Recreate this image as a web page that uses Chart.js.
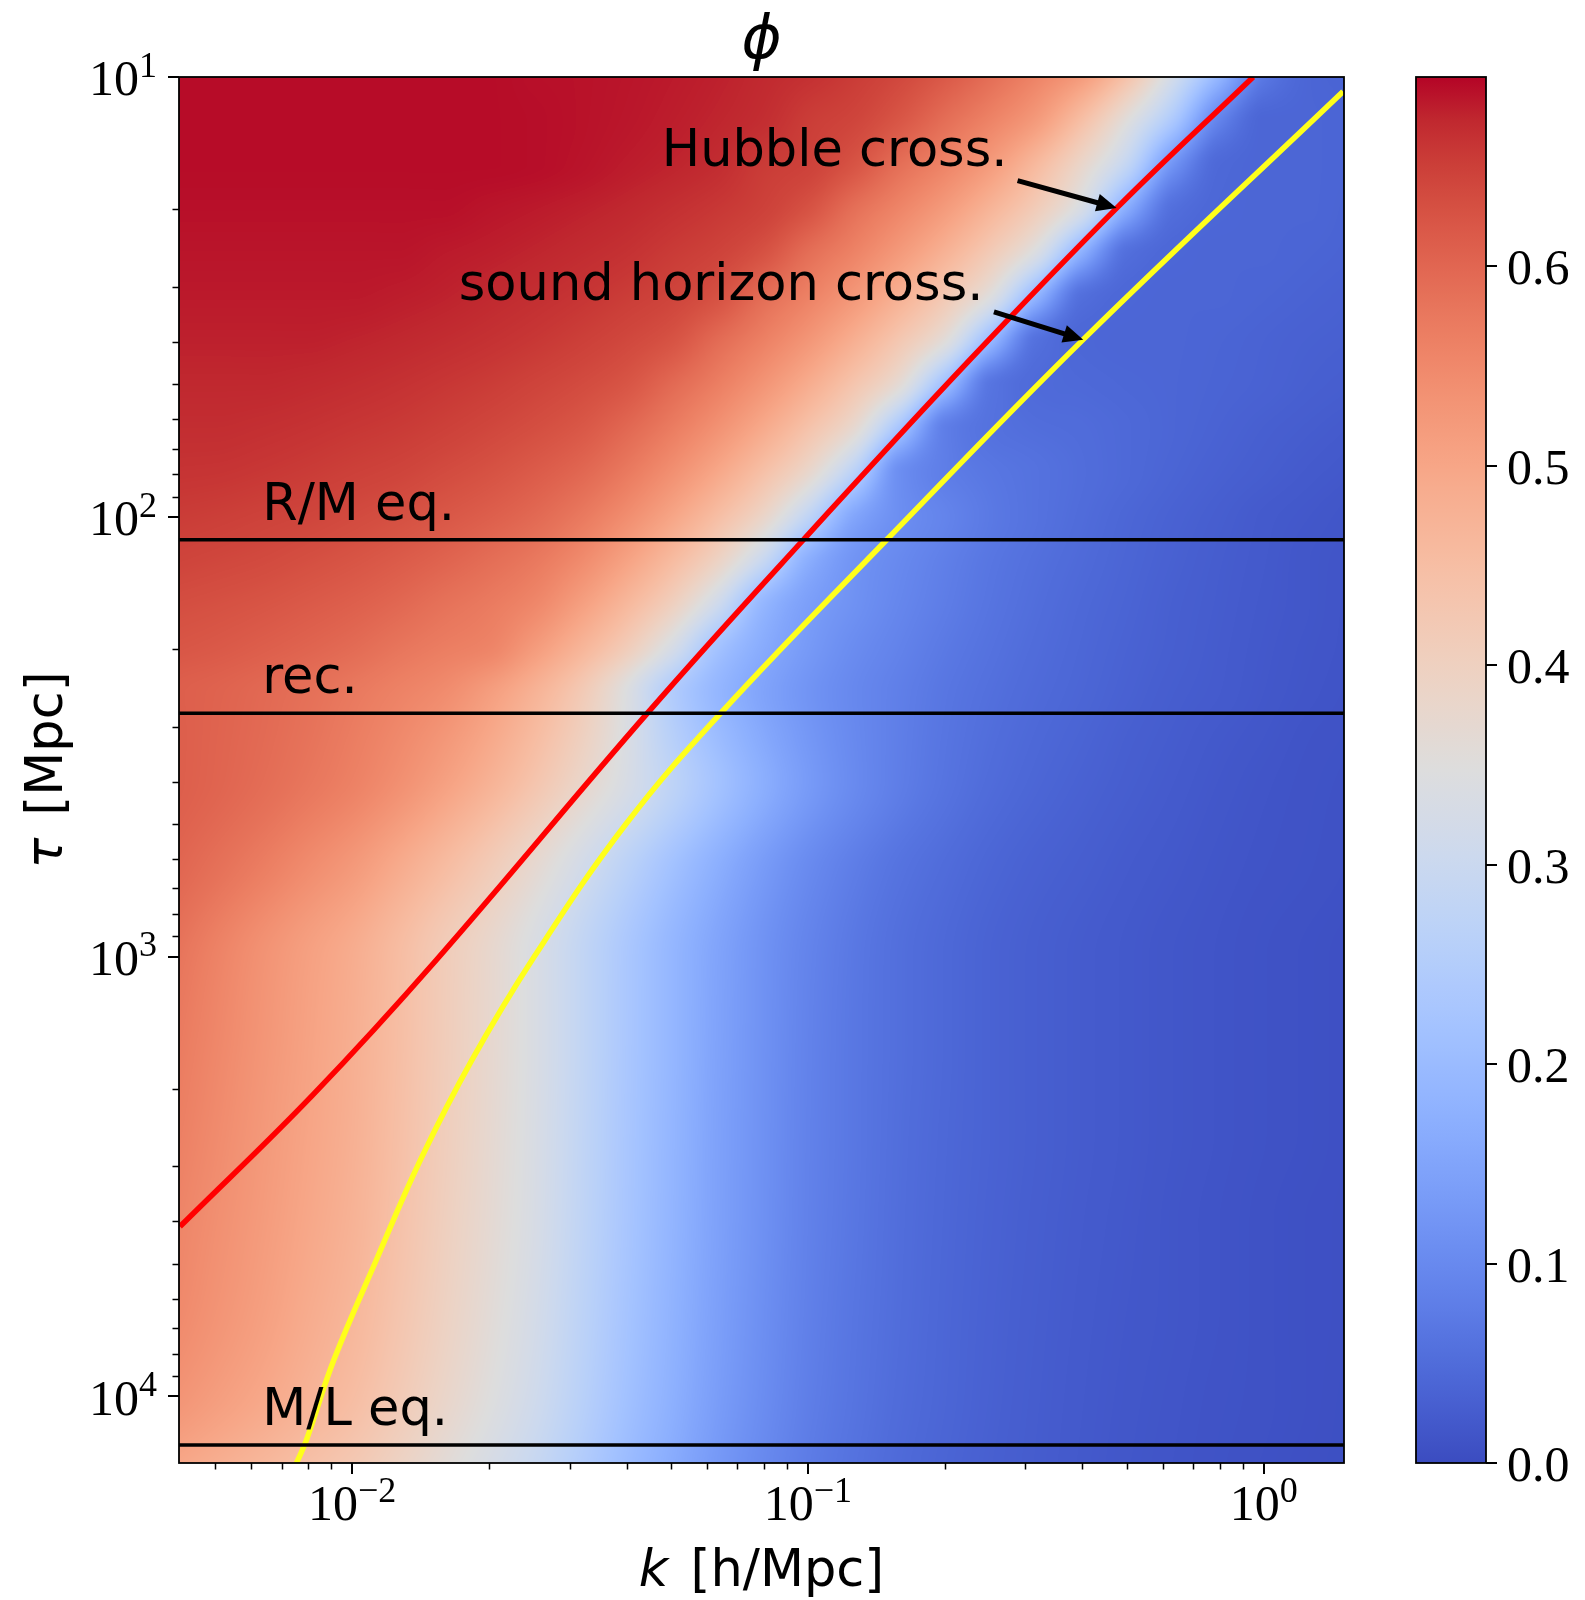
<!DOCTYPE html>
<html>
<head>
<meta charset="utf-8">
<script src="https://cdn.jsdelivr.net/npm/chart.js@4.4.1/dist/chart.umd.min.js"></script>
<style>
  html, body { margin: 0; padding: 0; background: #ffffff; }
  #wrap { position: relative; width: 1585px; height: 1600px; background: #ffffff; }
  #main { position: absolute; left: 0; top: 0; }
  #cbar { position: absolute; left: 1380px; top: 0; }
</style>
</head>
<body>
<div id="wrap">
  <canvas id="main" width="1585" height="1600"></canvas>
  <canvas id="cbar" width="205" height="1600"></canvas>
</div>
<script>
// ===================== DATA =====================
// phi field sampled on a grid: columns = k [h/Mpc], rows = tau [Mpc]
const kGrid = [0.00398, 0.00501, 0.00631, 0.00794, 0.01, 0.0126, 0.0158, 0.02, 0.0251, 0.0316, 0.0398, 0.0501, 0.0631, 0.0794,
               0.1, 0.126, 0.158, 0.2, 0.251, 0.316, 0.398, 0.501, 0.631, 0.794, 1.0, 1.259, 1.585];
const tauGrid = [10, 12.59, 15.85, 19.95, 25.12, 31.62, 39.81, 50.12, 63.1, 79.43, 100, 125.9, 158.5, 199.5, 251.2, 316.2, 398.1,
                 631, 1000, 1585, 2512, 3981, 6310, 10000, 15849];
const phi = [
  [.690,.690,.690,.690,.690,.690,.690,.690,.688,.687,.685,.682,.678,.672,.665,.654,.640,.618,.590,.558,.520,.440,.320,.190,.070,.040,.035],
  [.690,.690,.690,.690,.690,.690,.690,.690,.689,.687,.684,.680,.675,.668,.653,.643,.622,.589,.558,.520,.447,.351,.236,.090,.040,.040,.038],
  [.690,.690,.690,.690,.690,.690,.690,.690,.689,.686,.681,.676,.669,.655,.647,.625,.589,.557,.519,.460,.382,.283,.120,.045,.040,.040,.038],
  [.688,.688,.688,.688,.688,.688,.688,.685,.682,.678,.673,.666,.658,.648,.627,.588,.556,.519,.471,.413,.328,.165,.055,.042,.040,.040,.036],
  [.685,.685,.685,.685,.685,.685,.682,.679,.675,.670,.664,.655,.646,.628,.590,.559,.522,.475,.417,.337,.175,.055,.042,.040,.040,.038,.035],
  [.682,.682,.682,.682,.682,.680,.677,.672,.667,.661,.653,.644,.628,.592,.561,.525,.479,.422,.346,.185,.055,.042,.040,.040,.038,.035,.032],
  [.678,.678,.678,.678,.676,.673,.669,.664,.658,.650,.640,.626,.594,.563,.528,.482,.427,.353,.195,.058,.042,.040,.040,.038,.035,.032,.030],
  [.673,.673,.673,.671,.668,.664,.659,.653,.645,.636,.623,.596,.566,.531,.487,.432,.363,.205,.065,.048,.045,.042,.040,.037,.034,.030,.027],
  [.668,.668,.666,.663,.659,.655,.649,.641,.632,.620,.598,.569,.535,.492,.438,.370,.225,.080,.060,.053,.050,.045,.040,.035,.030,.026,.022],
  [.662,.661,.658,.654,.649,.644,.636,.627,.615,.599,.573,.539,.497,.444,.378,.264,.110,.080,.068,.060,.052,.045,.038,.032,.027,.022,.018],
  [.654,.651,.647,.643,.637,.630,.621,.610,.596,.574,.543,.502,.450,.386,.278,.154,.110,.090,.072,.060,.050,.041,.034,.028,.022,.018,.014],
  [.645,.641,.637,.631,.624,.615,.604,.590,.574,.547,.507,.457,.394,.296,.171,.120,.100,.082,.067,.056,.047,.039,.032,.026,.021,.016,.013],
  [.633,.629,.624,.617,.609,.598,.584,.571,.552,.513,.464,.403,.310,.190,.140,.115,.095,.078,.064,.053,.044,.037,.030,.025,.020,.016,.012],
  [.623,.618,.611,.603,.593,.579,.567,.556,.519,.471,.413,.328,.220,.165,.130,.105,.088,.072,.060,.050,.042,.035,.029,.024,.019,.015,.012],
  [.611,.605,.597,.587,.574,.560,.545,.515,.475,.422,.345,.250,.190,.150,.120,.098,.082,.067,.056,.047,.040,.033,.027,.023,.018,.014,.011],
  [.612,.604,.595,.583,.568,.550,.528,.496,.455,.404,.339,.262,.205,.161,.126,.100,.081,.065,.053,.044,.037,.030,.025,.020,.016,.012,.010],
  [.612,.603,.592,.578,.562,.540,.512,.477,.435,.385,.332,.275,.220,.172,.132,.102,.080,.063,.050,.041,.034,.028,.023,.018,.014,.011,.009],
  [.603,.586,.567,.545,.522,.490,.455,.415,.370,.320,.268,.217,.172,.133,.102,.079,.062,.050,.040,.033,.028,.023,.019,.015,.012,.010,.008],
  [.585,.560,.535,.511,.487,.453,.415,.377,.335,.285,.235,.190,.150,.117,.090,.070,.055,.044,.035,.029,.024,.020,.016,.013,.010,.008,.006],
  [.575,.553,.530,.507,.483,.450,.413,.375,.335,.285,.234,.190,.148,.116,.088,.069,.055,.044,.035,.029,.024,.020,.016,.013,.010,.008,.006],
  [.568,.547,.525,.503,.480,.447,.410,.372,.333,.283,.232,.188,.146,.115,.087,.069,.054,.043,.035,.029,.024,.020,.016,.013,.010,.008,.006],
  [.560,.540,.520,.498,.475,.442,.405,.368,.330,.280,.230,.186,.145,.114,.086,.068,.053,.042,.034,.028,.023,.019,.015,.012,.009,.007,.006],
  [.553,.533,.513,.490,.467,.434,.398,.361,.323,.274,.225,.182,.142,.111,.084,.066,.052,.041,.033,.027,.022,.018,.015,.012,.009,.007,.006],
  [.535,.516,.497,.475,.452,.420,.385,.349,.312,.265,.217,.176,.137,.107,.081,.064,.050,.040,.032,.026,.021,.017,.014,.011,.009,.007,.005],
  [.490,.473,.455,.435,.415,.386,.355,.322,.288,.244,.200,.162,.126,.098,.075,.059,.046,.037,.030,.025,.020,.016,.013,.010,.008,.006,.005]
];

// Hubble crossing curve (red)
const hubbleK   = [0.948, 0.475, 0.2265, 0.0982, 0.0444, 0.0153, 0.0082, 0.00419];
const hubbleTau = [10, 19.9, 44.0, 112.2, 279.9, 1018, 2063, 4111];

// sound horizon crossing curve (yellow)
const soundK   = [1.493, 0.402, 0.1496, 0.0643, 0.0398, 0.0251, 0.01832, 0.01413, 0.0113, 0.00912, 0.00794, 0.00755];
const soundTau = [10.79, 39.5, 112.2, 279.9, 501, 1000, 1718, 2897, 4898, 8260, 12560, 14180];

// characteristic times (horizontal lines)
const eventNames = ['R/M eq.', 'rec.', 'M/L eq.'];
const eventTau   = [112.8, 279.6, 12900];

// axes
const kRange   = [0.00417, 1.5];
const tauRange = [10, 14180];
const phiRange = [0, 0.695];
const xMajorExp = [-2, -1, 0];
const yMajorExp = [1, 2, 3, 4];
const cbTicks   = [0.0, 0.1, 0.2, 0.3, 0.4, 0.5, 0.6];
const cbTickLabels = ['0.0', '0.1', '0.2', '0.3', '0.4', '0.5', '0.6'];

// texts
const titleText = '\u03D5';
const xLabelMath = 'k', xLabelRest = ' [h/Mpc]';
const yLabelMath = '\u03C4', yLabelRest = ' [Mpc]';
const hubbleText = 'Hubble cross.';
const soundText = 'sound horizon cross.';

// ===================== STYLE / COLORMAP =====================
const COOLWARM = [
 [59,76,192],[68,90,204],[77,104,215],[87,117,225],[98,130,234],[108,142,241],[119,154,247],[130,165,251],
 [141,176,254],[152,185,255],[163,194,255],[174,201,253],[184,208,249],[194,213,244],[204,217,238],[213,219,230],
 [221,221,221],[229,216,209],[236,211,197],[241,204,185],[245,196,173],[247,187,160],[247,177,148],[247,166,135],
 [244,154,123],[241,141,111],[236,127,99],[229,112,88],[222,96,77],[213,80,66],[203,62,56],[192,40,47],[180,4,38]
];
function cmapT(t) {
  t = Math.max(0, Math.min(1, t));
  const f = t * (COOLWARM.length - 1);
  const i = Math.min(COOLWARM.length - 2, Math.floor(f));
  const g = f - i;
  const a = COOLWARM[i], b = COOLWARM[i + 1];
  return [a[0] + (b[0] - a[0]) * g, a[1] + (b[1] - a[1]) * g, a[2] + (b[2] - a[2]) * g];
}
const LUTN = 1024;
const LUT = [];
for (let i = 0; i < LUTN; i++) LUT.push(cmapT(i / (LUTN - 1)));

const SERIF = '"Liberation Serif", "Times New Roman", serif';
const SANS = '"DejaVu Sans", sans-serif';
const FS = 51;

// monotone cubic (PCHIP) shading between grid cells
function pchipSlopes(xs, ys) {
  const n = ys.length, h = [], dl = [], m = new Array(n);
  for (let i = 0; i < n - 1; i++) { h.push(xs[i + 1] - xs[i]); dl.push((ys[i + 1] - ys[i]) / h[i]); }
  m[0] = dl[0]; m[n - 1] = dl[n - 2];
  for (let i = 1; i < n - 1; i++) {
    if (dl[i - 1] * dl[i] <= 0) m[i] = 0;
    else {
      const w1 = 2 * h[i] + h[i - 1], w2 = h[i] + 2 * h[i - 1];
      m[i] = (w1 + w2) / (w1 / dl[i - 1] + w2 / dl[i]);
    }
  }
  return m;
}
function locate(arr, v) {
  const n = arr.length;
  if (v <= arr[0]) return 0;
  for (let i = 0; i < n - 1; i++) if (v <= arr[i + 1]) return i;
  return n - 2;
}
function pchipEval(xs, ys, m, v) {
  const i = locate(xs, v);
  const h = xs[i + 1] - xs[i];
  let t = (v - xs[i]) / h;
  t = Math.max(0, Math.min(1, t));
  const t2 = t * t, t3 = t2 * t;
  return (2 * t3 - 3 * t2 + 1) * ys[i] + (t3 - 2 * t2 + t) * h * m[i] + (-2 * t3 + 3 * t2) * ys[i + 1] + (t3 - t2) * h * m[i + 1];
}

// ===================== PLUGINS =====================
const heatmapPlugin = {
  id: 'heatmap',
  beforeDatasetsDraw(chart) {
    const { ctx, chartArea: a, scales } = chart;
    const xs = scales.x, ys = scales.y;
    const L = Math.round(a.left), T = Math.round(a.top);
    const W = Math.round(a.right) - L, H = Math.round(a.bottom) - T;
    const lu = kGrid.map(Math.log10), lv = tauGrid.map(Math.log10);
    const rowSlopes = phi.map(r => pchipSlopes(lu, r));
    const colVals = new Array(W), colSlopes = new Array(W);
    for (let c = 0; c < W; c++) {
      const u = Math.log10(xs.getValueForPixel(L + c + 0.5));
      colVals[c] = phi.map((r, j) => pchipEval(lu, r, rowSlopes[j], u));
      colSlopes[c] = pchipSlopes(lv, colVals[c]);
    }
    const img = ctx.createImageData(W, H);
    const d = img.data;
    const span = phiRange[1] - phiRange[0];
    for (let r = 0; r < H; r++) {
      const v = Math.log10(ys.getValueForPixel(T + r + 0.5));
      for (let c = 0; c < W; c++) {
        const val = pchipEval(lv, colVals[c], colSlopes[c], v);
        let t = (val - phiRange[0]) / span;
        t = Math.max(0, Math.min(1, t));
        const col = LUT[Math.round(t * (LUTN - 1))];
        const o = (r * W + c) * 4;
        d[o] = col[0]; d[o + 1] = col[1]; d[o + 2] = col[2]; d[o + 3] = 255;
      }
    }
    ctx.putImageData(img, L, T);
  }
};

function drawPow(ctx, exp, x, y, align) {
  const base = '10';
  const sup = exp < 0 ? '\u2212' + (-exp) : String(exp);
  ctx.font = '50px ' + SERIF;
  const wb = ctx.measureText(base).width;
  ctx.font = '36px ' + SERIF;
  const ws = ctx.measureText(sup).width;
  const x0 = align === 'right' ? x - wb - ws : x - (wb + ws) / 2;
  ctx.textAlign = 'left';
  ctx.textBaseline = 'alphabetic';
  ctx.font = '50px ' + SERIF;
  ctx.fillText(base, x0, y);
  ctx.font = '36px ' + SERIF;
  ctx.fillText(sup, x0 + wb, y - 18.5);
}

function drawArrow(ctx, x1, y1, x2, y2) {
  const dx = x2 - x1, dy = y2 - y1;
  const len = Math.hypot(dx, dy);
  const ux = dx / len, uy = dy / len;
  const hl = 20, hw = 9;
  const bx = x2 - ux * hl, by = y2 - uy * hl;
  ctx.save();
  ctx.strokeStyle = '#000';
  ctx.fillStyle = '#000';
  ctx.lineWidth = 5;
  ctx.lineCap = 'butt';
  ctx.beginPath();
  ctx.moveTo(x1, y1);
  ctx.lineTo(bx + ux * 2, by + uy * 2);
  ctx.stroke();
  ctx.beginPath();
  ctx.moveTo(x2, y2);
  ctx.lineTo(bx - uy * hw, by + ux * hw);
  ctx.lineTo(bx + uy * hw, by - ux * hw);
  ctx.closePath();
  ctx.fill();
  ctx.restore();
}

const overlayPlugin = {
  id: 'overlay',
  afterDatasetsDraw(chart) {
    const { ctx, scales } = chart;
    const xs = scales.x, ys = scales.y;
    ctx.save();
    ctx.fillStyle = '#000';
    ctx.textAlign = 'left';
    ctx.textBaseline = 'alphabetic';
    ctx.font = FS + 'px ' + SANS;
    eventNames.forEach((name, i) => {
      ctx.fillText(name, xs.getPixelForValue(0.00635), ys.getPixelForValue(eventTau[i] * 0.9));
    });
    ctx.fillText(hubbleText, xs.getPixelForValue(0.0478), ys.getPixelForValue(15.97));
    ctx.fillText(soundText, xs.getPixelForValue(0.01714), ys.getPixelForValue(32.1));
    drawArrow(ctx, xs.getPixelForValue(0.2884), ys.getPixelForValue(17.2), xs.getPixelForValue(0.4756), ys.getPixelForValue(19.86));
    drawArrow(ctx, xs.getPixelForValue(0.2559), ys.getPixelForValue(34.2), xs.getPixelForValue(0.4018), ys.getPixelForValue(39.6));
    ctx.restore();
  },
  afterDraw(chart) {
    const { ctx, chartArea: a, scales } = chart;
    const xs = scales.x, ys = scales.y;
    ctx.save();
    ctx.strokeStyle = '#000';
    ctx.lineWidth = 1.8;
    ctx.strokeRect(a.left, a.top, a.right - a.left, a.bottom - a.top);
    ctx.lineWidth = 2;
    ctx.beginPath();
    xMajorExp.forEach(e => {
      const px = Math.round(xs.getPixelForValue(Math.pow(10, e)));
      ctx.moveTo(px, a.bottom); ctx.lineTo(px, a.bottom + 11);
    });
    ctx.stroke();
    ctx.lineWidth = 1.5;
    ctx.beginPath();
    for (let e = -3; e <= 0; e++) {
      for (let m = 2; m <= 9; m++) {
        const v = m * Math.pow(10, e);
        if (v < kRange[0] || v > kRange[1]) continue;
        const px = Math.round(xs.getPixelForValue(v)) + 0.5;
        ctx.moveTo(px, a.bottom); ctx.lineTo(px, a.bottom + 6.5);
      }
    }
    ctx.stroke();
    ctx.lineWidth = 2;
    ctx.beginPath();
    yMajorExp.forEach(e => {
      const py = Math.round(ys.getPixelForValue(Math.pow(10, e)));
      ctx.moveTo(a.left, py); ctx.lineTo(a.left - 11, py);
    });
    ctx.stroke();
    ctx.lineWidth = 1.5;
    ctx.beginPath();
    for (let e = 1; e <= 4; e++) {
      for (let m = 2; m <= 9; m++) {
        const v = m * Math.pow(10, e);
        if (v < tauRange[0] || v > tauRange[1]) continue;
        const py = Math.round(ys.getPixelForValue(v)) + 0.5;
        ctx.moveTo(a.left, py); ctx.lineTo(a.left - 6.5, py);
      }
    }
    ctx.stroke();
    ctx.fillStyle = '#000';
    xMajorExp.forEach(e => drawPow(ctx, e, xs.getPixelForValue(Math.pow(10, e)), a.bottom + 57, 'center'));
    yMajorExp.forEach(e => drawPow(ctx, e, a.left - 22, ys.getPixelForValue(Math.pow(10, e)) + 18.4, 'right'));
    const cx = (a.left + a.right) / 2;
    const gap = 6;
    ctx.font = 'oblique ' + FS + 'px ' + SANS;
    const wk = ctx.measureText(xLabelMath).width + gap;
    ctx.font = FS + 'px ' + SANS;
    const wr = ctx.measureText(xLabelRest).width;
    const x0 = cx - (wk + wr) / 2;
    ctx.textAlign = 'left';
    ctx.font = 'oblique ' + FS + 'px ' + SANS;
    ctx.fillText(xLabelMath, x0, 1586);
    ctx.font = FS + 'px ' + SANS;
    ctx.fillText(xLabelRest, x0 + wk, 1586);
    const cy = (a.top + a.bottom) / 2;
    ctx.save();
    ctx.translate(62, cy);
    ctx.rotate(-Math.PI / 2);
    ctx.font = 'oblique ' + FS + 'px ' + SANS;
    const wt = ctx.measureText(yLabelMath).width + gap;
    ctx.font = FS + 'px ' + SANS;
    const wr2 = ctx.measureText(yLabelRest).width;
    const y0 = -(wt + wr2) / 2;
    ctx.font = 'oblique ' + FS + 'px ' + SANS;
    ctx.fillText(yLabelMath, y0, 0);
    ctx.font = FS + 'px ' + SANS;
    ctx.fillText(yLabelRest, y0 + wt, 0);
    ctx.restore();
    ctx.font = 'oblique 61px ' + SANS;
    ctx.textAlign = 'center';
    ctx.fillText(titleText, cx, 58);
    ctx.restore();
  }
};

// ===================== MAIN CHART =====================
const toPts = (ks, ts) => ks.map((k, i) => ({ x: k, y: ts[i] }));
const lineDatasets = eventTau.map((t, i) => ({
  label: eventNames[i],
  data: [{ x: kRange[0], y: t }, { x: kRange[1], y: t }],
  showLine: true, borderColor: '#000000', borderWidth: 3.5, pointRadius: 0,
  clip: 0, order: 0
}));

new Chart(document.getElementById('main'), {
  type: 'scatter',
  data: {
    datasets: [
      ...lineDatasets,
      { label: 'Hubble cross.', data: toPts(hubbleK, hubbleTau), showLine: true,
        borderColor: '#ff0000', borderWidth: 5.5, pointRadius: 0, tension: 0.4, clip: 0, order: 1 },
      { label: 'sound horizon cross.', data: toPts(soundK, soundTau), showLine: true,
        borderColor: '#ffff1a', borderWidth: 5.5, pointRadius: 0, tension: 0.4, clip: 0, order: 1 }
    ]
  },
  options: {
    responsive: false,
    devicePixelRatio: 1,
    animation: false,
    events: [],
    layout: { padding: { left: 179, right: 241, top: 77, bottom: 137 } },
    scales: {
      x: { type: 'logarithmic', display: false, min: kRange[0], max: kRange[1] },
      y: { type: 'logarithmic', display: false, reverse: true, min: tauRange[0], max: tauRange[1] }
    },
    plugins: { legend: { display: false }, tooltip: { enabled: false }, title: { display: false } }
  },
  plugins: [heatmapPlugin, overlayPlugin]
});

// ===================== COLORBAR =====================
const cbPlugin = {
  id: 'cbframe',
  afterDraw(chart) {
    const { ctx, chartArea: a, scales } = chart;
    const ys = scales.y;
    ctx.save();
    ctx.strokeStyle = '#000';
    ctx.lineWidth = 1.8;
    ctx.strokeRect(a.left, a.top, a.right - a.left, a.bottom - a.top);
    ctx.lineWidth = 2;
    ctx.beginPath();
    cbTicks.forEach(v => {
      const py = Math.round(ys.getPixelForValue(v));
      ctx.moveTo(a.right, py); ctx.lineTo(a.right + 11, py);
    });
    ctx.stroke();
    ctx.fillStyle = '#000';
    ctx.font = '50px ' + SERIF;
    ctx.textAlign = 'left';
    ctx.textBaseline = 'alphabetic';
    cbTicks.forEach((v, i) => ctx.fillText(cbTickLabels[i], a.right + 21, ys.getPixelForValue(v) + 18));
    ctx.restore();
  }
};

new Chart(document.getElementById('cbar'), {
  type: 'bar',
  data: {
    labels: ['phi'],
    datasets: [{
      data: [[phiRange[0], phiRange[1]]],
      backgroundColor: (context) => {
        const ch = context.chart;
        const a = ch.chartArea;
        if (!a) return '#888';
        const g = ch.ctx.createLinearGradient(0, a.bottom, 0, a.top);
        for (let i = 0; i <= 64; i++) {
          const c = cmapT(i / 64);
          g.addColorStop(i / 64, 'rgb(' + c.map(Math.round).join(',') + ')');
        }
        return g;
      },
      borderWidth: 0,
      barPercentage: 1,
      categoryPercentage: 1
    }]
  },
  options: {
    responsive: false,
    devicePixelRatio: 1,
    animation: false,
    events: [],
    layout: { padding: { left: 36, right: 99, top: 77, bottom: 137 } },
    scales: {
      x: { display: false },
      y: { display: false, min: phiRange[0], max: phiRange[1] }
    },
    plugins: { legend: { display: false }, tooltip: { enabled: false } }
  },
  plugins: [cbPlugin]
});
</script>
</body>
</html>
